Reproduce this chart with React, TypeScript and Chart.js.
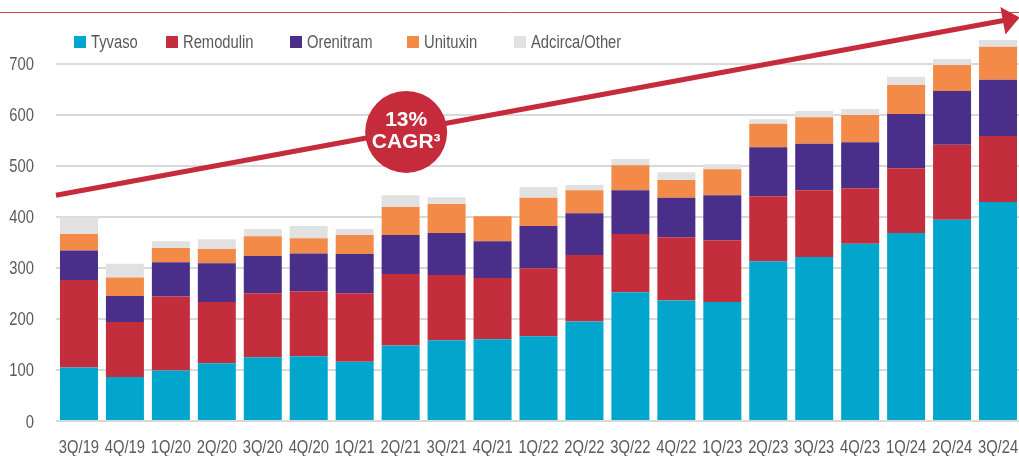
import React, { useEffect, useRef } from 'react';
import { Chart, registerables } from 'chart.js';

Chart.register(...registerables);

const LABELS = ['3Q/19', '4Q/19', '1Q/20', '2Q/20', '3Q/20', '4Q/20', '1Q/21', '2Q/21', '3Q/21', '4Q/21', '1Q/22', '2Q/22', '3Q/22', '4Q/22', '1Q/23', '2Q/23', '3Q/23', '4Q/23', '1Q/24', '2Q/24', '3Q/24'];
const TYVASO = [105, 86, 99, 113, 125, 127, 116, 148, 158, 160, 166, 195, 252, 236, 233, 313, 321, 347, 368, 394, 429];
const REMODULIN = [171, 108, 145, 120, 125, 127, 134, 140, 128, 120, 133, 130, 114, 124, 121, 127, 131, 109, 127, 147, 129];
const ORENITRAM = [58, 51, 67, 76, 73, 74, 77, 76, 82, 72, 83, 82, 86, 77, 88, 96, 91, 90, 106, 105, 110];
const UNITUXIN = [32, 36, 28, 28, 39, 30, 37, 55, 57, 49, 55, 45, 49, 35, 51, 46, 52, 53, 57, 51, 65];
const OTHER = [34, 27, 13, 19, 14, 24, 12, 23, 13, 0, 21, 10, 12, 15, 10, 9, 12, 12, 16, 12, 13];

const SERIES_NAMES = ['Tyvaso', 'Remodulin', 'Orenitram', 'Unituxin', 'Adcirca/Other'];
const SERIES_VALUES = [TYVASO, REMODULIN, ORENITRAM, UNITUXIN, OTHER];
const COLORS = ['#02A6CD', '#C42D3C', '#4A2F8A', '#F48A48', '#E1E1E1'];

const Y_MAX = 750;
const Y_STEP = 100;

const CAGR_LINES = ['13%', 'CAGR³'];
// annotation anchors in data space (category index, value)
const ARROW_FROM = { x: -0.5, y: 442 };
const ARROW_TO = { x: 20.47, y: 790 };
const BUBBLE_AT = { x: 7.12, y: 566 };

const FONT = "'Liberation Sans', Arial, sans-serif";
const NARROW = 0.82; // horizontal squeeze to mimic a condensed face
const TEXT_GRAY = '#595959';
const RED = '#C62B3B';

const LEGEND_X = [74, 166, 290, 407, 514];

function narrowText(ctx: CanvasRenderingContext2D, text: string, x: number, y: number, align: CanvasTextAlign) {
  ctx.save();
  ctx.translate(x, y);
  ctx.scale(NARROW, 1);
  ctx.textAlign = align;
  ctx.fillText(text, 0, 0);
  ctx.restore();
}

const overlay = {
  id: 'overlay',
  afterDraw(chart: any) {
    const { ctx, scales } = chart;
    const xs = scales.x;
    const ys = scales.y;
    ctx.save();

    // thin red header rule
    ctx.strokeStyle = '#D2404F';
    ctx.lineWidth = 1;
    ctx.beginPath();
    ctx.moveTo(0, 12.5);
    ctx.lineTo(chart.width, 12.5);
    ctx.stroke();

    // axis labels (condensed look)
    ctx.fillStyle = TEXT_GRAY;
    ctx.font = `18px ${FONT}`;
    ctx.textBaseline = 'alphabetic';
    LABELS.forEach((lab, i) => {
      narrowText(ctx, lab, xs.getPixelForValue(i), 453, 'center');
    });
    ys.ticks.forEach((t: any) => {
      narrowText(ctx, String(t.value), 34, ys.getPixelForValue(t.value) + 6.5, 'right');
    });

    // legend
    SERIES_NAMES.forEach((name, i) => {
      const x = LEGEND_X[i];
      ctx.fillStyle = COLORS[i];
      ctx.fillRect(x, 36, 12, 12);
      ctx.fillStyle = TEXT_GRAY;
      narrowText(ctx, name, x + 17, 48, 'left');
    });

    // arrow
    const x0 = xs.getPixelForValue(ARROW_FROM.x);
    const y0 = ys.getPixelForValue(ARROW_FROM.y);
    const x1 = xs.getPixelForValue(ARROW_TO.x);
    const y1 = ys.getPixelForValue(ARROW_TO.y);
    const ang = Math.atan2(y1 - y0, x1 - x0);
    const headLen = 17;
    const headHalf = 14;
    const bx = x1 - headLen * Math.cos(ang);
    const by = y1 - headLen * Math.sin(ang);
    ctx.strokeStyle = RED;
    ctx.fillStyle = RED;
    ctx.lineWidth = 5;
    ctx.lineCap = 'butt';
    ctx.beginPath();
    ctx.moveTo(x0, y0);
    ctx.lineTo(bx + 2 * Math.cos(ang), by + 2 * Math.sin(ang));
    ctx.stroke();
    ctx.beginPath();
    ctx.moveTo(x1, y1);
    ctx.lineTo(bx + headHalf * Math.sin(ang), by - headHalf * Math.cos(ang));
    ctx.lineTo(bx - headHalf * Math.sin(ang), by + headHalf * Math.cos(ang));
    ctx.closePath();
    ctx.fill();

    // CAGR bubble
    const cx = xs.getPixelForValue(BUBBLE_AT.x);
    const cy = ys.getPixelForValue(BUBBLE_AT.y);
    ctx.beginPath();
    ctx.arc(cx, cy, 41, 0, Math.PI * 2);
    ctx.fillStyle = RED;
    ctx.fill();
    ctx.fillStyle = '#FFFFFF';
    ctx.textAlign = 'center';
    ctx.textBaseline = 'middle';
    ctx.font = `bold 21px ${FONT}`;
    ctx.fillText(CAGR_LINES[0], cx, cy - 12);
    ctx.fillText(CAGR_LINES[1], cx, cy + 10);

    ctx.restore();
  },
};

export default function App() {
  const canvasRef = useRef<HTMLCanvasElement | null>(null);

  useEffect(() => {
    document.body.style.margin = '0';
    const canvas = canvasRef.current;
    if (!canvas) return;
    const chart = new Chart(canvas, {
      type: 'bar',
      data: {
        labels: LABELS,
        datasets: SERIES_NAMES.map((name, i) => ({
          label: name,
          data: SERIES_VALUES[i],
          backgroundColor: COLORS[i],
          borderWidth: 0,
          barPercentage: 0.827,
          categoryPercentage: 1,
        })),
      },
      options: {
        responsive: false,
        animation: false,
        devicePixelRatio: 1,
        layout: { padding: { top: 38, left: 0, right: 0, bottom: 0 } },
        plugins: {
          legend: { display: false },
          tooltip: { enabled: false },
        },
        scales: {
          x: {
            stacked: true,
            grid: { display: false },
            border: { display: false },
            ticks: { display: false },
            afterFit: (s: any) => {
              s.height = 35;
            },
          },
          y: {
            stacked: true,
            min: 0,
            max: Y_MAX,
            border: { display: false },
            grid: { color: '#D9D9D9', lineWidth: 2, drawTicks: false },
            ticks: { display: false, stepSize: Y_STEP },
            afterBuildTicks: (axis: any) => {
              axis.ticks = axis.ticks.filter((t: any) => t.value % Y_STEP === 0);
            },
            afterFit: (s: any) => {
              s.width = 56;
            },
          },
        },
      },
      plugins: [overlay],
    });
    return () => chart.destroy();
  }, []);

  return (
    <div style={{ width: 1019, height: 456, overflow: 'hidden', position: 'relative' }}>
      <canvas ref={canvasRef} width={1021} height={456} style={{ width: 1021, height: 456, display: 'block' }} />
    </div>
  );
}
